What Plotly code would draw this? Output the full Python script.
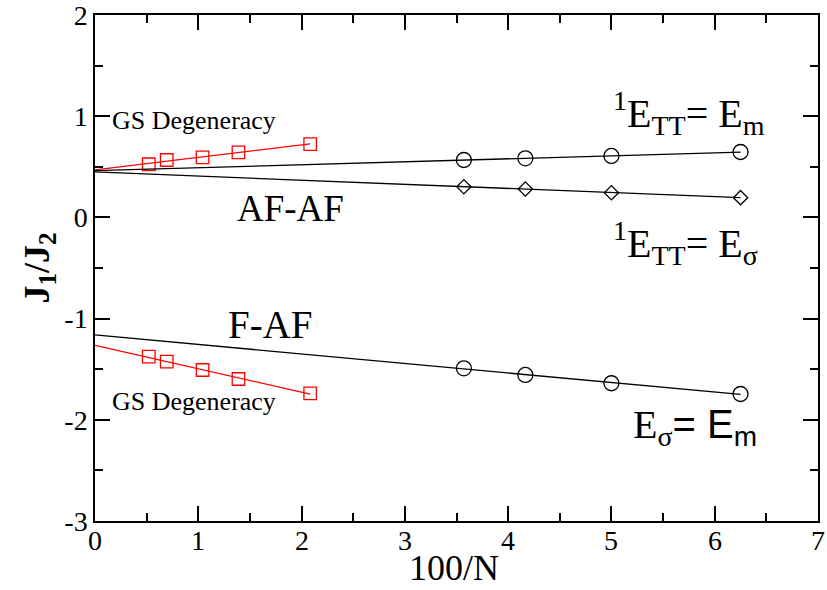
import numpy as np
import plotly.graph_objects as go

# System sizes (x axis is 100/N)
N_large = [192, 144, 96, 72, 48]
N_small = [28, 24, 20, 16]

# AF-AF branch
af_gs = [0.525, 0.567, 0.594, 0.643, 0.725]        # GS degeneracy (large N)
af_em = [0.567, 0.584, 0.607, 0.646]               # 1E_TT = E_m
af_esig = [0.303, 0.281, 0.244, 0.195]             # 1E_TT = E_sigma

# F-AF branch
faf_em = [-1.491, -1.557, -1.639, -1.745]          # E_sigma = E_m
faf_gs = [-1.376, -1.426, -1.508, -1.597, -1.738]  # GS degeneracy (large N)

# Axis ticks
x_ticks = [0, 1, 2, 3, 4, 5, 6, 7]
x_tick_text = ["0", "1", "2", "3", "4", "5", "6", "7"]
y_ticks = [-3, -2, -1, 0, 1, 2]
y_tick_text = ["-3", "-2", "-1", "0", "1", "2"]

x_large = 100.0 / np.array(N_large)
x_small = 100.0 / np.array(N_small)

SERIF = "Liberation Serif"

fig = go.Figure()


def add_series(x, y, color, symbol, size):
    # linear extrapolation to 100/N -> 0, drawn from the data points
    slope, icpt = np.polyfit(x, y, 1)
    xl = np.array([0.0, float(np.max(x))])
    fig.add_trace(go.Scatter(x=xl, y=icpt + slope * xl, mode="lines",
                             line=dict(color=color, width=1.3),
                             hoverinfo="skip", showlegend=False))
    fig.add_trace(go.Scatter(x=x, y=y, mode="markers",
                             marker=dict(symbol=symbol, size=size, color=color,
                                         line=dict(color=color, width=1.3)),
                             showlegend=False))


add_series(x_large, af_gs, "red", "square-open", 12.5)
add_series(x_small, af_em, "black", "circle-open", 15)
add_series(x_small, af_esig, "black", "diamond-open", 11)
add_series(x_small, faf_em, "black", "circle-open", 15)
add_series(x_large, faf_gs, "red", "square-open", 12.5)

notes = [
    (0.15, 0.953, "GS Degeneracy", 26),
    (0.15, -1.82, "GS Degeneracy", 26),
    (1.355, 0.09, "AF-AF", 37),
    (1.27, -1.06, "F-AF", 39),
    (5.0, 1.03, "<sup>1</sup>E<sub>TT</sub>= E<sub>m</sub>", 40),
    (5.0, -0.25, "<sup>1</sup>E<sub>TT</sub>= E<sub>σ</sub>", 40),
    (5.19, -2.07, "E<sub>σ</sub><span style=\"font-family:Liberation Sans\">= E<sub>m</sub></span>", 40),
]
for x, y, t, s in notes:
    fig.add_annotation(x=x, y=y, xref="x", yref="y", text=t, showarrow=False,
                       xanchor="left", yanchor="middle",
                       font=dict(family=SERIF, size=s, color="black"))

# x tick labels, set close under the axis
for xv, lab in zip(x_ticks, x_tick_text):
    fig.add_annotation(x=xv, y=-0.038, xref="x", yref="paper", text=lab,
                       showarrow=False, xanchor="center", yanchor="middle",
                       font=dict(family=SERIF, size=28, color="black"))

# x-axis title
fig.add_annotation(x=0.497, y=-69 / 506, xref="paper", yref="paper", text="100/N",
                   showarrow=False, xanchor="center", yanchor="bottom",
                   font=dict(family=SERIF, size=36, color="black"))

axis_common = dict(showline=True, linecolor="black", linewidth=1.5, mirror="allticks",
                   ticks="inside", ticklen=15, tickwidth=1.5, tickcolor="black",
                   showgrid=False, zeroline=False, ticklabeloverflow="allow",
                   automargin=False,
                   tickfont=dict(family=SERIF, size=28, color="black"),
                   minor=dict(ticks="inside", ticklen=8, tickwidth=1.5, tickcolor="black",
                              dtick=0.5, showgrid=False))

fig.update_xaxes(range=[0, 7], tickmode="array", tickvals=x_ticks, showticklabels=False,
                 **axis_common)
fig.update_yaxes(range=[-3, 2], tickmode="array", tickvals=y_ticks, ticktext=y_tick_text,
                 title=dict(text="<b>J<sub>1</sub>/J<sub>2</sub></b>",
                            font=dict(family=SERIF, size=36, color="black"), standoff=4),
                 **axis_common)

fig.update_layout(width=827, height=590, margin=dict(l=95, r=9, t=15, b=69),
                  plot_bgcolor="white", paper_bgcolor="white")

fig.write_html("out.html")
